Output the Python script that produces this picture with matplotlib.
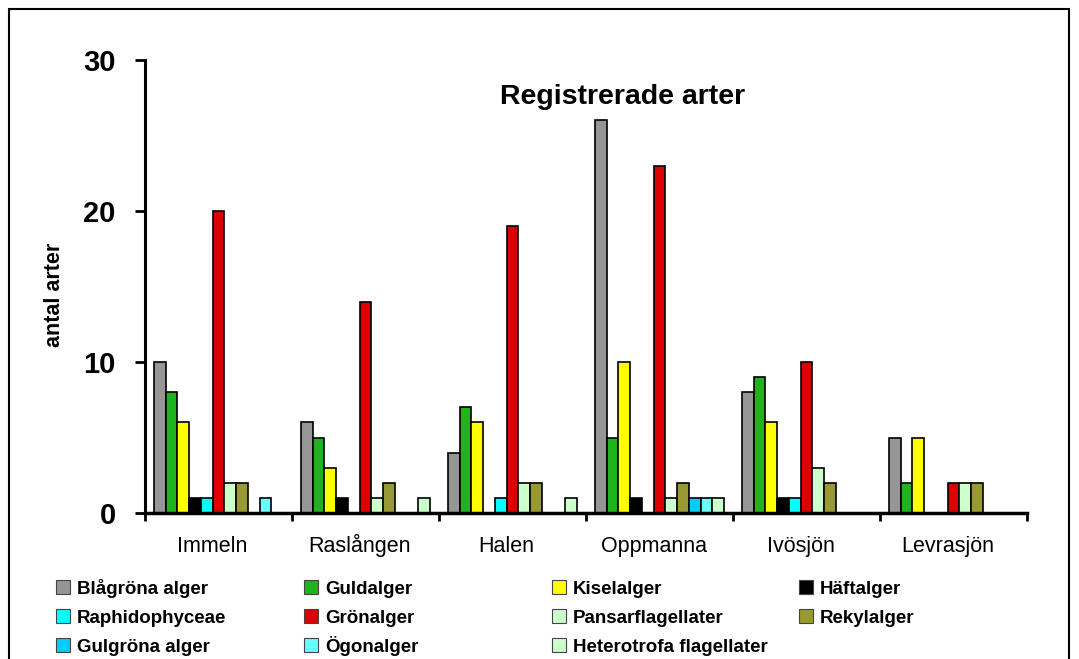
import matplotlib
matplotlib.use('Agg')
import matplotlib.pyplot as plt
from matplotlib.patches import Rectangle
import numpy as np

plt.rcParams['font.family'] = ['Liberation Sans', 'DejaVu Sans']

# sjöar och arter
sjoar = ['Immeln', 'Raslången', 'Halen', 'Oppmanna', 'Ivösjön', 'Levrasjön']
arter = ['Blågröna alger', 'Guldalger', 'Kiselalger', 'Häftalger',
         'Raphidophyceae', 'Grönalger', 'Pansarflagellater', 'Rekylalger',
         'Gulgröna alger', 'Ögonalger', 'Heterotrofa flagellater']
farger = ['#969696', '#1fb41f', '#ffff00', '#000000', '#00ffff', '#dd0000',
          '#ccffcc', '#999933', '#00ccff', '#66ffff', '#ccffcc']

# antal arter per grupp (rad = grupp, kolumn = sjö)
blagrona = [10, 6, 4, 26, 8, 5]
guld = [8, 5, 7, 5, 9, 2]
kisel = [6, 3, 6, 10, 6, 5]
haft = [1, 1, 0, 1, 1, 0]
raphido = [1, 0, 1, 0, 1, 0]
gron = [20, 14, 19, 23, 10, 2]
pansar = [2, 1, 2, 1, 3, 2]
rekyl = [2, 2, 2, 2, 2, 2]
gulgrona = [0, 0, 0, 1, 0, 0]
ogon = [1, 0, 0, 1, 0, 0]
hetero = [0, 1, 1, 1, 0, 0]
varden = [blagrona, guld, kisel, haft, raphido, gron, pansar, rekyl,
          gulgrona, ogon, hetero]

fig = plt.figure(figsize=(10.79, 6.59), dpi=100)
ax = fig.add_axes([145/1079, 1-513/659, (1027-145)/1079, (513-60)/659])

x = np.arange(len(sjoar)) + 0.5
w = 0.08
for j, v in enumerate(varden):
    ax.bar(x + (j - 5) * w, v, width=w, color=farger[j],
           edgecolor='black', linewidth=1.2)

ax.set_xlim(0, 6)
ax.set_ylim(0, 30)
ax.set_yticks([0, 10, 20, 30])
ax.tick_params(axis='y', labelsize=21, width=2, length=7, pad=14)
for t in ax.get_yticklabels():
    t.set_fontweight('bold')
ax.set_xticks(np.arange(7))
ax.set_xticklabels([])
ax.tick_params(axis='x', which='major', width=2, length=6)
ax.set_xticks(x - 0.04, minor=True)
ax.set_xticklabels(sjoar, minor=True, fontsize=15.5)
ax.tick_params(axis='x', which='minor', length=0, pad=28)
for t in ax.get_xticklabels(minor=True):
    t.set_verticalalignment('baseline')
ax.spines['top'].set_visible(False)
ax.spines['right'].set_visible(False)
ax.spines['left'].set_linewidth(2.2)
ax.spines['bottom'].set_linewidth(2.5)
ax.set_ylabel('antal arter', fontsize=15.5, fontweight='bold')
ax.yaxis.set_label_coords((54-145)/882, (513-295)/453)
ax.yaxis.label.set_verticalalignment('center')
ax.text(0.541, 0.918, 'Registrerade arter', transform=ax.transAxes,
        ha='center', va='center', fontsize=20.5, fontweight='bold')

# förklaring
kol_x = [56, 304, 552, 799]
rad_y = [594, 623, 652]
for i, namn in enumerate(arter):
    r, k = divmod(i, 4)
    px, py = kol_x[k], rad_y[r]
    fig.patches.append(Rectangle((px/1079, 1-py/659), 14/1079, 14/659,
                                 transform=fig.transFigure, facecolor=farger[i],
                                 edgecolor='#444444', linewidth=0.8))
    fig.text((px+21)/1079, 1-py/659, namn, fontsize=13.5,
             fontweight='bold', va='baseline', ha='left')

fig.patches.append(Rectangle((9/1079, -0.02), 1060/1079, 1.02-9/659,
                             transform=fig.transFigure, fill=False,
                             edgecolor='black', linewidth=1.5))

fig.savefig('out.png', dpi=100)
